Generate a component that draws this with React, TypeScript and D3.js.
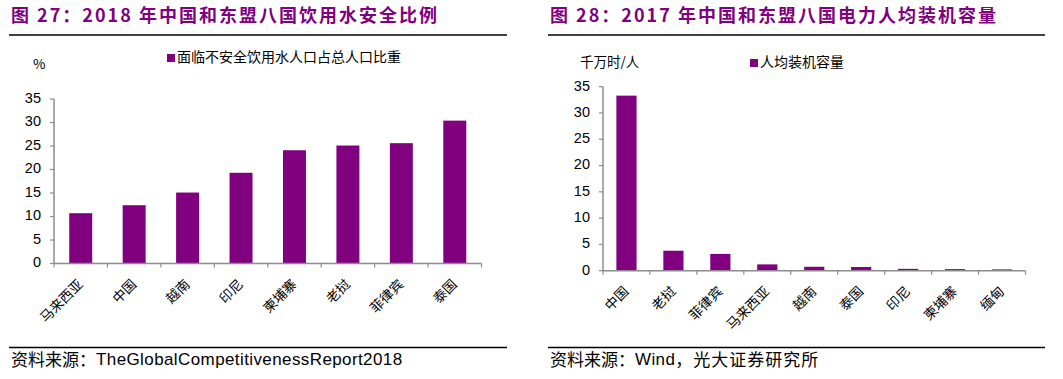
import React from "react";
import * as d3 from "d3";

const waterCategories = ["马来西亚", "中国", "越南", "印尼", "柬埔寨", "老挝", "菲律宾", "泰国"];
const waterValues = [10.7, 12.4, 15.1, 19.3, 24.1, 25.1, 25.6, 30.4];
const waterTicks = [0, 5, 10, 15, 20, 25, 30, 35];

const powerCategories = ["中国", "老挝", "菲律宾", "马来西亚", "越南", "泰国", "印尼", "柬埔寨", "缅甸"];
const powerValues = [33.3, 3.8, 3.2, 1.2, 0.75, 0.7, 0.35, 0.3, 0.25];
const powerTicks = [0, 5, 10, 15, 20, 25, 30, 35];

const PURPLE = "#800080";
const AXIS = "#8c8c8c";
const CJK = "'Noto Sans CJK SC', sans-serif";
const LAT = "'Liberation Sans', Arial, sans-serif";

type PanelProps = {
  title: string;
  unit: string;
  unitX: number;
  legend: string;
  legendX: number;
  source: string;
  sourceLatin: string;
  sourceRest: string;
  cats: string[];
  vals: number[];
  ticks: number[];
  x0: number;
  x1: number;
  y0: number;
  y1: number;
  lineX0: number;
  lineX1: number;
  titleX: number;
  unitY: number;
  legendY: number;
};

function Panel(p: PanelProps) {
  const x = d3.scaleBand<string>().domain(p.cats).range([p.x0, p.x1]).paddingInner(0.57).paddingOuter(0.285);
  const y = d3.scaleLinear().domain([0, 35]).range([p.y0, p.y1]);
  const bandStep = (p.x1 - p.x0) / p.cats.length;
  const tickXs = d3.range(p.cats.length + 1).map((i) => p.x0 + i * bandStep);
  return (
    <g>
      <text x={p.titleX} y={22} fontFamily={CJK} fontWeight={700} fontSize={18} letterSpacing={2} fill={PURPLE}>
        {p.title}
      </text>
      <line x1={p.lineX0} x2={p.lineX1} y1={35} y2={35} stroke="#000" strokeWidth={1.3} />
      <text x={p.unitX} y={p.unitY} fontFamily={CJK} fontSize={13.5} fill="#000" dominantBaseline="middle">
        {p.unit}
      </text>
      <rect x={p.legendX} y={p.legendY - 4} width={8} height={8} fill={PURPLE} />
      <text x={p.legendX + 10} y={p.legendY} fontFamily={CJK} fontSize={14} fill="#000" dominantBaseline="middle">
        {p.legend}
      </text>
      <line x1={p.x0} x2={p.x0} y1={p.y1} y2={p.y0} stroke={AXIS} strokeWidth={1.5} />
      {p.ticks.map((t) => (
        <g key={t}>
          <line x1={p.x0 - 4} x2={p.x0} y1={y(t)} y2={y(t)} stroke={AXIS} strokeWidth={1.2} />
          <text x={p.x0 - 13} y={y(t)} textAnchor="end" dominantBaseline="middle" fontFamily={LAT} fontSize={14.5} fill="#000">
            {t}
          </text>
        </g>
      ))}
      {p.cats.map((c, i) => (
        <rect key={c} x={x(c)} y={y(p.vals[i])} width={x.bandwidth()} height={p.y0 - y(p.vals[i])} fill={PURPLE} />
      ))}
      <line x1={p.x0} x2={p.x1} y1={p.y0} y2={p.y0} stroke={AXIS} strokeWidth={1.5} />
      {tickXs.map((tx, i) => (
        <line key={i} x1={tx} x2={tx} y1={p.y0} y2={p.y0 + 4} stroke={AXIS} strokeWidth={1.2} />
      ))}
      {p.cats.map((c) => {
        const cx = (x(c) as number) + x.bandwidth() / 2 + 0.5;
        const cy = p.y0 + 19;
        return (
          <text key={c} x={cx} y={cy} textAnchor="end" dominantBaseline="middle" fontFamily={CJK} fontSize={13.5} fill="#000" transform={`rotate(-45 ${cx} ${cy})`}>
            {c}
          </text>
        );
      })}
      <line x1={p.lineX0} x2={p.lineX1} y1={347.5} y2={347.5} stroke="#000" strokeWidth={1.3} />
      <text x={p.titleX} y={361} dominantBaseline="middle" fontSize={17} fill="#000">
        <tspan fontFamily={CJK}>{p.source}</tspan>
        <tspan fontFamily={LAT} letterSpacing={0.4}>{p.sourceLatin}</tspan>
        <tspan fontFamily={CJK} letterSpacing={1}>{p.sourceRest}</tspan>
      </text>
    </g>
  );
}

export default function App() {
  return (
    <svg width={1063} height={379} style={{ position: "absolute", left: 0, top: 0, background: "#fff" }}>
      <rect width={1063} height={379} fill="#fff" />
      <Panel
        title="图 27：2018 年中国和东盟八国饮用水安全比例"
        titleX={11}
        unit="%"
        unitX={33}
        unitY={65}
        legend="面临不安全饮用水人口占总人口比重"
        legendX={167}
        legendY={58}
        source="资料来源："
        sourceLatin="TheGlobalCompetitivenessReport2018"
        sourceRest=""
        cats={waterCategories}
        vals={waterValues}
        ticks={waterTicks}
        x0={54}
        x1={481.5}
        y0={263.5}
        y1={99}
        lineX0={9}
        lineX1={507}
      />
      <Panel
        title="图 28：2017 年中国和东盟八国电力人均装机容量"
        titleX={550}
        unit="千万时/人"
        unitX={580}
        unitY={63}
        legend="人均装机容量"
        legendX={750}
        legendY={63}
        source="资料来源："
        sourceLatin="Wind"
        sourceRest="，光大证券研究所"
        cats={powerCategories}
        vals={powerValues}
        ticks={powerTicks}
        x0={603}
        x1={1025.5}
        y0={270.7}
        y1={86.7}
        lineX0={548}
        lineX1={1045}
      />
    </svg>
  );
}
